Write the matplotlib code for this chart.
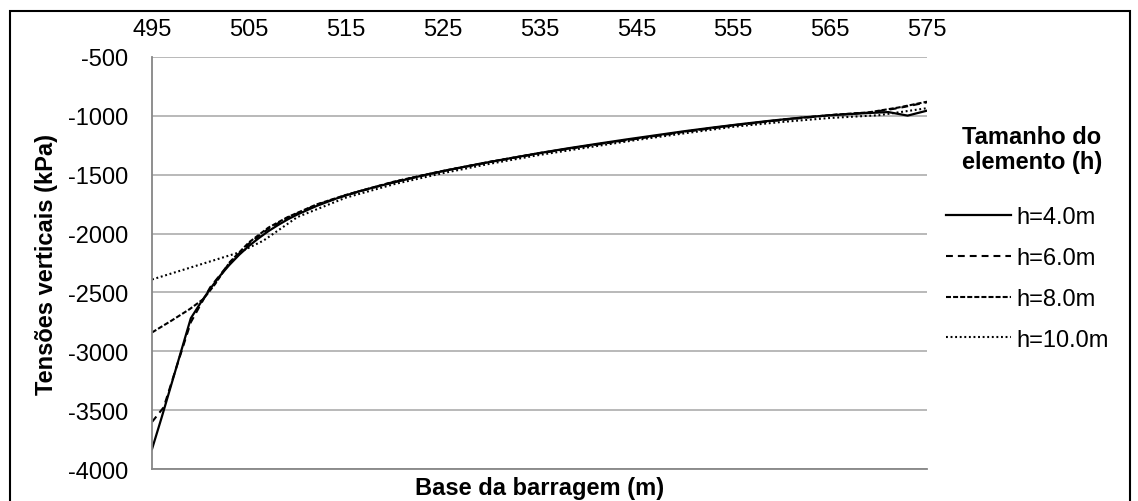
import numpy as np
import matplotlib
matplotlib.use('Agg')
import matplotlib.pyplot as plt
from matplotlib.patches import Rectangle

plt.rcParams['font.family'] = ['Liberation Sans', 'DejaVu Sans']
plt.rcParams['axes.unicode_minus'] = False

# dados
x_h4 = [495, 496, 497, 498, 499, 500, 501, 502, 503, 504, 505, 506, 507, 508, 509, 510,
        512, 514, 516, 518, 520, 523, 526, 529, 532, 535, 538, 541, 544, 547, 550,
        553, 556, 559, 562, 565, 568, 571, 573, 575]
y_h4 = [-3830, -3560, -3280, -3000, -2720, -2590, -2470, -2360, -2265, -2180, -2105, -2040,
        -1980, -1928, -1880, -1838, -1765, -1703, -1650, -1605, -1565, -1505, -1453, -1405,
        -1360, -1316, -1275, -1237, -1200, -1165, -1130, -1098, -1068, -1040, -1015, -995,
        -980, -968, -998, -956]

x_h6 = [495, 496.2, 497.5, 499, 501, 503, 505, 507, 509, 512, 515, 520, 525, 530, 535,
        540, 545, 550, 555, 560, 565, 569, 572, 575]
y_h6 = [-3600, -3476, -3140, -2754, -2457, -2250, -2085, -1960, -1865, -1755, -1675, -1560,
        -1470, -1390, -1318, -1255, -1195, -1135, -1082, -1035, -995, -972, -935, -885]

x_h8 = [495, 497, 498.9, 500.3, 501.5, 503, 505, 507, 509, 512, 515, 520, 525, 530, 535,
        540, 545, 550, 555, 560, 565, 569, 572, 575]
y_h8 = [-2840, -2740, -2641, -2556, -2430, -2245, -2075, -1950, -1860, -1752, -1672, -1558,
        -1468, -1388, -1316, -1253, -1193, -1133, -1080, -1033, -993, -970, -930, -880]

x_h10 = [495, 504, 506.5, 510, 515, 520, 525, 530, 535, 540, 545, 550, 555, 560, 565, 570, 575]
y_h10 = [-2390, -2160, -2060, -1860, -1695, -1580, -1487, -1405, -1332, -1268, -1205, -1148,
         -1093, -1052, -1018, -995, -935]

labels = ['h=4.0m', 'h=6.0m', 'h=8.0m', 'h=10.0m']
xticks = [495, 505, 515, 525, 535, 545, 555, 565, 575]
yticks = [-500, -1000, -1500, -2000, -2500, -3000, -3500, -4000]

fs = 17

fig = plt.figure(figsize=(11.38, 5.02), dpi=100)
ax = fig.add_axes([0.1336, 0.0637, 0.681, 0.8208])

lw = 1.5
ax.plot(x_h4, y_h4, color='black', lw=1.6, linestyle='-', label=labels[0])
ax.plot(x_h6, y_h6, color='black', lw=lw, linestyle=(0, (3.3, 2.4)), label=labels[1])
ax.plot(x_h8, y_h8, color='black', lw=lw, linestyle=(0, (2.4, 1.0)), label=labels[2])
ax.plot(x_h10, y_h10, color='black', lw=lw, linestyle=(0, (0.9, 1.3)), label=labels[3])

ax.set_xlim(495, 575)
ax.set_ylim(-4000, -500)
ax.set_xticks(xticks)
ax.set_yticks(yticks)
ax.xaxis.tick_top()
ax.tick_params(axis='x', length=0, pad=12, labelsize=fs)
ax.tick_params(axis='y', length=0, pad=17, labelsize=fs)
ax.grid(True, axis='y', color='#a6a6a6', lw=1.1)
ax.set_axisbelow(True)
for s in ['top', 'right']:
    ax.spines[s].set_visible(False)
for s in ['left', 'bottom']:
    ax.spines[s].set_color('#868686')
    ax.spines[s].set_linewidth(1.3)

ax.set_xlabel('Base da barragem (m)', fontsize=fs, fontweight='bold', labelpad=5)
ax.set_ylabel('Tensões verticais (kPa)', fontsize=fs, fontweight='bold', labelpad=7)

leg = ax.legend(loc='upper left', bbox_to_anchor=(946 / 1138, 1 - 207 / 502),
                bbox_transform=fig.transFigure, frameon=False, fontsize=fs,
                handlelength=2.75, handletextpad=0.25, labelspacing=0.8,
                borderpad=0, borderaxespad=0)
fig.text(1032 / 1138, 1 - 150 / 502, 'Tamanho do\nelemento (h)', ha='center', va='center',
         fontsize=fs, fontweight='bold', linespacing=1.1)

fig.patches.append(Rectangle((10 / 1138, -0.05), 1120 / 1138, 1.05 - 12 / 502,
                             transform=fig.transFigure, fill=False, ec='black', lw=1.5))

fig.savefig('out.png', dpi=100)
